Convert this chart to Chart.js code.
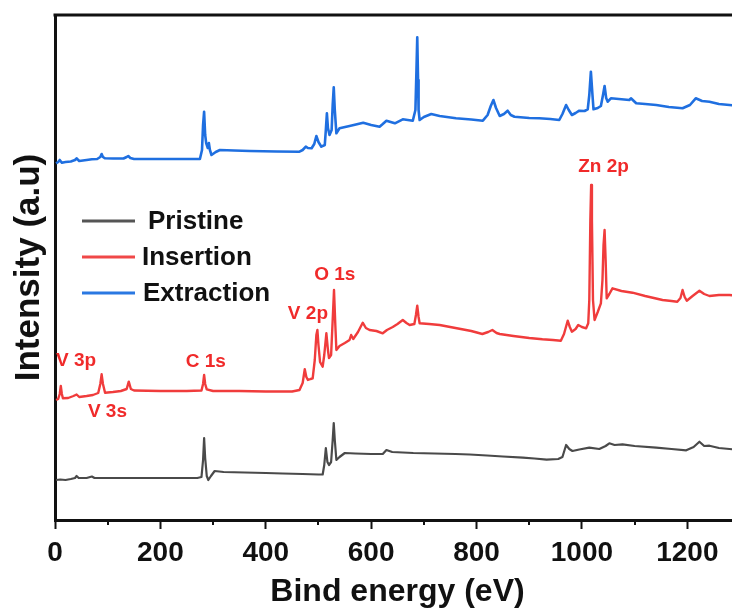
<!DOCTYPE html>
<html><head><meta charset="utf-8">
<script src="https://cdn.jsdelivr.net/npm/chart.js@4.4.0/dist/chart.umd.min.js"></script>
<style>html,body{margin:0;padding:0;overflow:hidden;background:#fff}canvas{display:block}</style>
</head><body>
<canvas id="c" width="745" height="609"></canvas>
<script>
// ---- Data (binding energy in eV, intensity in arbitrary offset units) ----
const pristineEV = [2,10,20,30,38,41,45,60,70,75,100,150,200,250,270,278,281,283,285,288,291,296,303,320,360,400,432,470,500,508,511,514,517,520,524,527,529,531,534,540,550,570,600,622,629,640,680,720,760,787,820,850,888,910,933,955,963,970,976,982,995,1014,1033,1045,1052,1062,1077,1100,1141,1170,1198,1212,1223,1232,1242,1260,1280,1300];
const pristineI  = [40,40.5,40,41,42,44,42,42,43.5,42,42,42,42,42,42,43,60,82,62,44,40,44,49,48,47.5,47,46.5,46,45.5,45.5,55,72,58,55,58,80,97,80,60,63,67,66.5,66,66,70,68,67,66.5,66,65.5,64.5,63.5,62.3,61.5,60.3,61,63,75,71,69,70.5,72.3,71,74,76.7,75,75.7,74,72.3,71,69.7,73,78.3,74,74.3,72,71,70];

const insertionEV = [2,6,9,11,13,15,25,35,41,46,60,72,82,86,88.5,91,95,110,125,136,140,144,150,200,250,278,281,283,285,288,300,350,400,450,464,470,474,477,480,485,489,493,496,498,500,503,508,511,515,518,520,524,527,529.5,532,534,540,550,559,562,566,575,584,590,597,610,622,630,641,650,660,667,673,682,685,687.5,690,692,710,730,760,790,811,822,830,838,844,870,900,925,945,960,966,973,977,981,988,993,1000,1008,1012,1014,1016,1017.5,1019,1021,1024,1030,1036,1039,1041,1043,1045,1047,1052,1058,1075,1096,1120,1153,1170,1181,1187,1191,1195,1199,1210,1223,1232,1242,1260,1280,1300];
const insertionI  = [120,121,126,134,126,121.7,122,124,125.5,123,124,125,127,136,145.7,136,127.3,128,129,131,138.3,131,129.5,129,129,129.5,136,145,136,130.7,129,129,128.5,128.5,130,137,150.7,143,140,141,141.7,160,185,190,175,158,153.3,165,186.7,170,162,165,200,230,195,170,174,177,180,185,181,188,197.3,192,190,189,186.7,190,193,196,200,197,195,196,205,214.3,203,196.7,196,195,192,189,186,188,190,187,186,184,182,180.7,180,179.3,186,199.3,193,188.3,191,195,193,191.7,196.7,220,300,335,300,220,200,208,216.7,240,275,290,260,221.7,226,231.7,229,227.3,224,220,219,218.3,222,230,223,219.3,224,229.3,226,224,225,225,224];

const extractionEV = [2,6,9,13,20,30,38,41,46,60,70,80,86,88.5,91,95,110,130,136,139,143,150,200,250,275,279,281,283,285,287,290,292,294,297,305,313,340,370,420,464,470,476,480,487,492,496,500,505.5,512,514,516,518,521,525,527,529,531,534,540,559,585,600,616,622,629,645,660,679,684,686,687.5,689,690,692,700,714,730,761,790,812,821,827,832,837,844,852,859,865,872,900,919,940,957,963,970,975,981,988,995,1005,1011,1014,1017,1020,1022,1030,1036,1040,1043,1046,1049,1055,1070,1090,1093,1103,1120,1141,1165,1191,1205,1216,1228,1242,1260,1280,1300];
const extractionI  = [356.7,358,360,357.3,358,358.5,360,361.7,359,360,360.7,361,363,366,363,361.7,361.5,361.5,363,364,362,361,361,361,361,370,395,408.3,385,376.7,372,377,370,365,368,370,369.5,369,368.5,368.3,370,373.3,372,371.7,376,384,378,373.3,375,390,406.7,392,385,390,415,432.7,410,386.7,391.7,394,397.3,395,393.3,396,399.3,396.7,400.7,399.3,410,450,482.7,440,410,400,403,406,404,401.7,400.5,399.3,405,414,420,412,404,406,409.3,405,403.3,402,401.7,401,400,406,415,410,405,407,409.3,409,410.7,425,448.3,425,410.7,412,414,425,434,422,418.3,421.7,421,420,421.7,416.7,416,415,413,411.7,415,421.7,419,418.3,416,415,414];

const seriesNames = ['Pristine', 'Insertion', 'Extraction'];
const xTickValues = [0, 200, 400, 600, 800, 1000, 1200];
const xMinorValues = [100, 300, 500, 700, 900, 1100, 1300];

const peakLabels = ['Zn 2p', 'O 1s', 'V 2p', 'V 3p', 'C 1s', 'V 3s'];
const peakLabelEV = [1041, 531, 480, 40, 286, 99.5];
const peakLabelI  = [353, 245.5, 206, 159, 158, 108];

// ---- Styles ----
const colors = ['#4a4a4a', '#f03c3c', '#1f6fe0'];
const legendColors = ['#555555', '#f04848', '#2a78e2'];
const widths = [2.2, 2.4, 2.6];
const FONT = '"Liberation Sans", Arial, sans-serif';

function pts(xs, ys) { return xs.map((x, i) => ({ x: x, y: ys[i] })); }

const frameAndExtras = {
  id: 'frameAndExtras',
  afterDraw(chart) {
    const ctx = chart.ctx, a = chart.chartArea;
    const xs = chart.scales.x, ys = chart.scales.y;
    ctx.save();
    // top frame line
    ctx.strokeStyle = '#111'; ctx.lineWidth = 3;
    ctx.beginPath(); ctx.moveTo(a.left - 1.5, a.top); ctx.lineTo(chart.width, a.top); ctx.stroke();
    // minor ticks
    ctx.lineWidth = 2;
    xMinorValues.forEach(v => {
      const p = Math.round(xs.getPixelForValue(v));
      ctx.beginPath(); ctx.moveTo(p, a.bottom); ctx.lineTo(p, a.bottom + 5); ctx.stroke();
    });
    // peak labels
    ctx.fillStyle = '#f02a2a';
    ctx.font = 'bold 19px ' + FONT;
    ctx.textAlign = 'center'; ctx.textBaseline = 'middle';
    peakLabels.forEach((t, i) => {
      ctx.fillText(t, xs.getPixelForValue(peakLabelEV[i]), ys.getPixelForValue(peakLabelI[i]));
    });
    // legend
    const ly = [221, 257, 293], tx = [148, 142, 143];
    ctx.font = 'bold 26px ' + FONT;
    ctx.textAlign = 'left';
    seriesNames.forEach((n, i) => {
      ctx.strokeStyle = legendColors[i]; ctx.lineWidth = 3;
      ctx.beginPath(); ctx.moveTo(82, ly[i]); ctx.lineTo(135, ly[i]); ctx.stroke();
      ctx.fillStyle = '#111';
      ctx.fillText(n, tx[i], ly[i] + 1);
    });
    ctx.restore();
  }
};

new Chart(document.getElementById('c'), {
  type: 'line',
  data: {
    datasets: [
      { label: seriesNames[0], data: pts(pristineEV, pristineI), borderColor: colors[0], borderWidth: widths[0] },
      { label: seriesNames[1], data: pts(insertionEV, insertionI), borderColor: colors[1], borderWidth: widths[1] },
      { label: seriesNames[2], data: pts(extractionEV, extractionI), borderColor: colors[2], borderWidth: widths[2] }
    ]
  },
  options: {
    responsive: false,
    animation: false,
    elements: { point: { radius: 0 }, line: { tension: 0, borderJoinStyle: 'round', fill: false } },
    layout: { padding: { top: 15, right: 5, left: 0, bottom: 0 } },
    plugins: { legend: { display: false }, tooltip: { enabled: false } },
    scales: {
      x: {
        type: 'linear', min: 0, max: 1300,
        afterBuildTicks: s => { s.ticks = xTickValues.map(v => ({ value: v })); },
        afterFit: s => { s.height = 89; },
        ticks: { color: '#111', font: { family: FONT, size: 28, weight: 'bold' }, padding: 7, maxRotation: 0, autoSkip: false,
                 callback: v => String(v) },
        grid: { display: true, drawOnChartArea: false, drawTicks: true, tickLength: 9, tickWidth: 2, tickColor: '#111' },
        border: { display: true, width: 3, color: '#111' },
        title: { display: true, text: 'Bind energy (eV)', color: '#111', font: { family: FONT, size: 32, weight: 'bold', lineHeight: 1.0 }, padding: { top: 0, bottom: 1 } }
      },
      y: {
        type: 'linear', min: 0, max: 505,
        afterFit: s => { s.width = 55; },
        ticks: { display: false },
        grid: { display: false },
        border: { display: true, width: 3, color: '#111' },
        title: { display: true, text: 'Intensity (a.u)', color: '#111', font: { family: FONT, size: 35, weight: 'bold', lineHeight: 1.0 }, padding: { top: 12, bottom: 0 } }
      }
    }
  },
  plugins: [frameAndExtras]
});
</script>
</body></html>
